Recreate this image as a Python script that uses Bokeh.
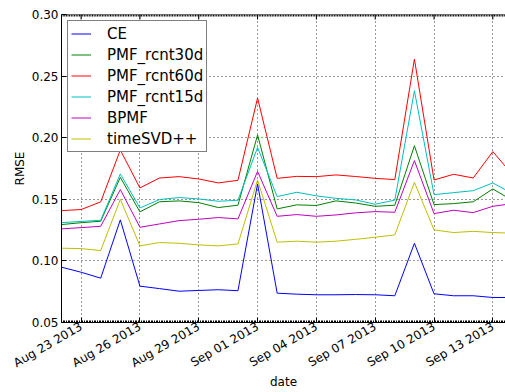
import math
import pandas as pd
from bokeh.plotting import figure
from bokeh.models import (Range1d, FixedTicker, NumeralTickFormatter, Span,
                          DatetimeTickFormatter, Legend, LegendItem, ColumnDataSource)
from bokeh.embed import file_html
from bokeh.resources import INLINE

# ---------------- data ----------------
dates = ["2013-08-22", "2013-08-23", "2013-08-24", "2013-08-25", "2013-08-26", "2013-08-27",
         "2013-08-28", "2013-08-29", "2013-08-30", "2013-08-31", "2013-09-01", "2013-09-02",
         "2013-09-03", "2013-09-04", "2013-09-05", "2013-09-06", "2013-09-07", "2013-09-08",
         "2013-09-09", "2013-09-10", "2013-09-11", "2013-09-12", "2013-09-13", "2013-09-14"]

ce = [0.0949, 0.0908, 0.0860, 0.1333, 0.0795, 0.0775, 0.0754, 0.0760, 0.0766, 0.0758, 0.1625, 0.0738,
      0.0730, 0.0725, 0.0725, 0.0727, 0.0725, 0.0717, 0.1143, 0.0733, 0.0717, 0.0717, 0.0703, 0.0703]
pmf30 = [0.1295, 0.1310, 0.1322, 0.1678, 0.1398, 0.1480, 0.1487, 0.1473, 0.1433, 0.1452, 0.2022, 0.1422,
         0.1455, 0.1450, 0.1487, 0.1470, 0.1443, 0.1452, 0.1935, 0.1457, 0.1465, 0.1480, 0.1584, 0.1490]
pmf60 = [0.1408, 0.1417, 0.1479, 0.1900, 0.1592, 0.1673, 0.1684, 0.1665, 0.1633, 0.1654, 0.2322, 0.1670,
         0.1686, 0.1684, 0.1698, 0.1685, 0.1670, 0.1660, 0.2638, 0.1657, 0.1703, 0.1673, 0.1887, 0.1700]
pmf15 = [0.1311, 0.1320, 0.1330, 0.1706, 0.1430, 0.1498, 0.1514, 0.1503, 0.1484, 0.1492, 0.1921, 0.1522,
         0.1557, 0.1528, 0.1508, 0.1495, 0.1460, 0.1493, 0.2381, 0.1538, 0.1554, 0.1570, 0.1633, 0.1546]
bpmf = [0.1260, 0.1270, 0.1281, 0.1579, 0.1273, 0.1300, 0.1327, 0.1338, 0.1352, 0.1341, 0.1727, 0.1362,
        0.1376, 0.1362, 0.1373, 0.1390, 0.1400, 0.1395, 0.1814, 0.1384, 0.1411, 0.1392, 0.1443, 0.1465]
tsvd = [0.1103, 0.1100, 0.1084, 0.1500, 0.1122, 0.1149, 0.1143, 0.1130, 0.1122, 0.1138, 0.1657, 0.1152,
        0.1160, 0.1152, 0.1160, 0.1175, 0.1192, 0.1211, 0.1638, 0.1252, 0.1230, 0.1240, 0.1230, 0.1225]

series_names = ["CE", "PMF_rcnt30d", "PMF_rcnt60d", "PMF_rcnt15d", "BPMF", "timeSVD++"]
series_values = [ce, pmf30, pmf60, pmf15, bpmf, tsvd]
series_colors = ["#0000ff", "#008000", "#ff0000", "#00bfbf", "#bf00bf", "#bfbf00"]

x_tick_dates = ["2013-08-23", "2013-08-26", "2013-08-29", "2013-09-01",
                "2013-09-04", "2013-09-07", "2013-09-10", "2013-09-13"]
y_ticks = [0.05, 0.10, 0.15, 0.20, 0.25, 0.30]

# ---------------- plot ----------------
FONT = "DejaVu Sans"
xs = pd.to_datetime(dates)
x_start = pd.Timestamp("2013-08-22")
x_end = pd.Timestamp("2013-09-13") + pd.Timedelta(hours=15.5)
y_lo, y_hi = y_ticks[0], y_ticks[-1]

def ms(ts):
    return pd.Timestamp(ts).value / 1e6

major_dt = pd.to_datetime(x_tick_dates)
minor_dt = []
t = x_start
while t <= x_end:
    minor_dt.append(t)
    t += pd.Timedelta(hours=2)
xticker = FixedTicker(ticks=[ms(d) for d in major_dt], minor_ticks=[ms(d) for d in minor_dt])
fmt_str = "%b %d %Y"
xfmt = DatetimeTickFormatter(microseconds=fmt_str, milliseconds=fmt_str, seconds=fmt_str,
                             minsec=fmt_str, minutes=fmt_str, hourmin=fmt_str, hours=fmt_str,
                             days=fmt_str, months=fmt_str, years=fmt_str)

p = figure(width=505, height=392, x_axis_type="datetime", output_backend="svg",
           toolbar_location=None, x_range=Range1d(x_start, x_end), y_range=Range1d(y_lo, y_hi),
           min_border_left=61, min_border_top=14, min_border_bottom=70, min_border_right=0)
p.outline_line_color = None
p.background_fill_color = "white"
p.border_fill_color = "white"

# grids
p.xgrid.ticker = xticker
for g in [p.xgrid[0], p.ygrid[0]]:
    g.grid_line_color = "black"
    g.grid_line_dash = "1 3"
    g.grid_line_alpha = 0.8
    g.grid_line_width = 1

renderers = []
for name, vals, col in zip(series_names, series_values, series_colors):
    src = ColumnDataSource(dict(x=xs, y=vals))
    r = p.line("x", "y", source=src, line_color=col, line_width=1)
    renderers.append((name, r))

# top spine with inward ticks
p.add_layout(Span(location=y_hi, dimension="width", line_color="black", line_width=1))
p.ray(x=list(major_dt), y=[y_hi] * len(major_dt), length=5, length_units="screen",
      angle=-math.pi / 2, line_color="black", line_width=1)
p.ray(x=minor_dt, y=[y_hi] * len(minor_dt), length=2, length_units="screen",
      angle=-math.pi / 2, line_color="black", line_width=1)

# x axis (bottom)
xa = p.xaxis[0]
xa.ticker = xticker
xa.formatter = xfmt
xa.major_label_orientation = math.pi / 6
xa.axis_label = "date"
for ax in [xa, p.yaxis[0]]:
    ax.axis_line_color = "black"
    ax.major_tick_line_color = "black"
    ax.major_tick_in = 5
    ax.major_tick_out = 0
    ax.major_label_text_font = FONT
    ax.major_label_text_font_size = "12px"
    ax.major_label_text_color = "black"
    ax.axis_label_text_font = FONT
    ax.axis_label_text_font_size = "12px"
    ax.axis_label_text_font_style = "normal"
    ax.axis_label_text_color = "black"
xa.minor_tick_in = 2
xa.minor_tick_out = 0
xa.minor_tick_line_color = "black"
xa.major_label_standoff = 3
xa.axis_label_standoff = -4

ya = p.yaxis[0]
ya.ticker = FixedTicker(ticks=y_ticks)
ya.formatter = NumeralTickFormatter(format="0.00")
ya.minor_tick_line_color = None
ya.axis_label = "RMSE"
ya.major_label_standoff = 3
ya.axis_label_standoff = 2

legend = Legend(items=[LegendItem(label=n, renderers=[r]) for n, r in renderers],
                location="top_left", margin=6, padding=3, spacing=2,
                glyph_width=20, glyph_height=19, label_height=19, label_standoff=16,
                label_text_font=FONT, label_text_font_size="15px", label_text_color="black",
                border_line_color="black", border_line_width=1,
                background_fill_color="white", background_fill_alpha=1)
p.add_layout(legend)

open("out.html", "w").write(file_html(p, INLINE))
